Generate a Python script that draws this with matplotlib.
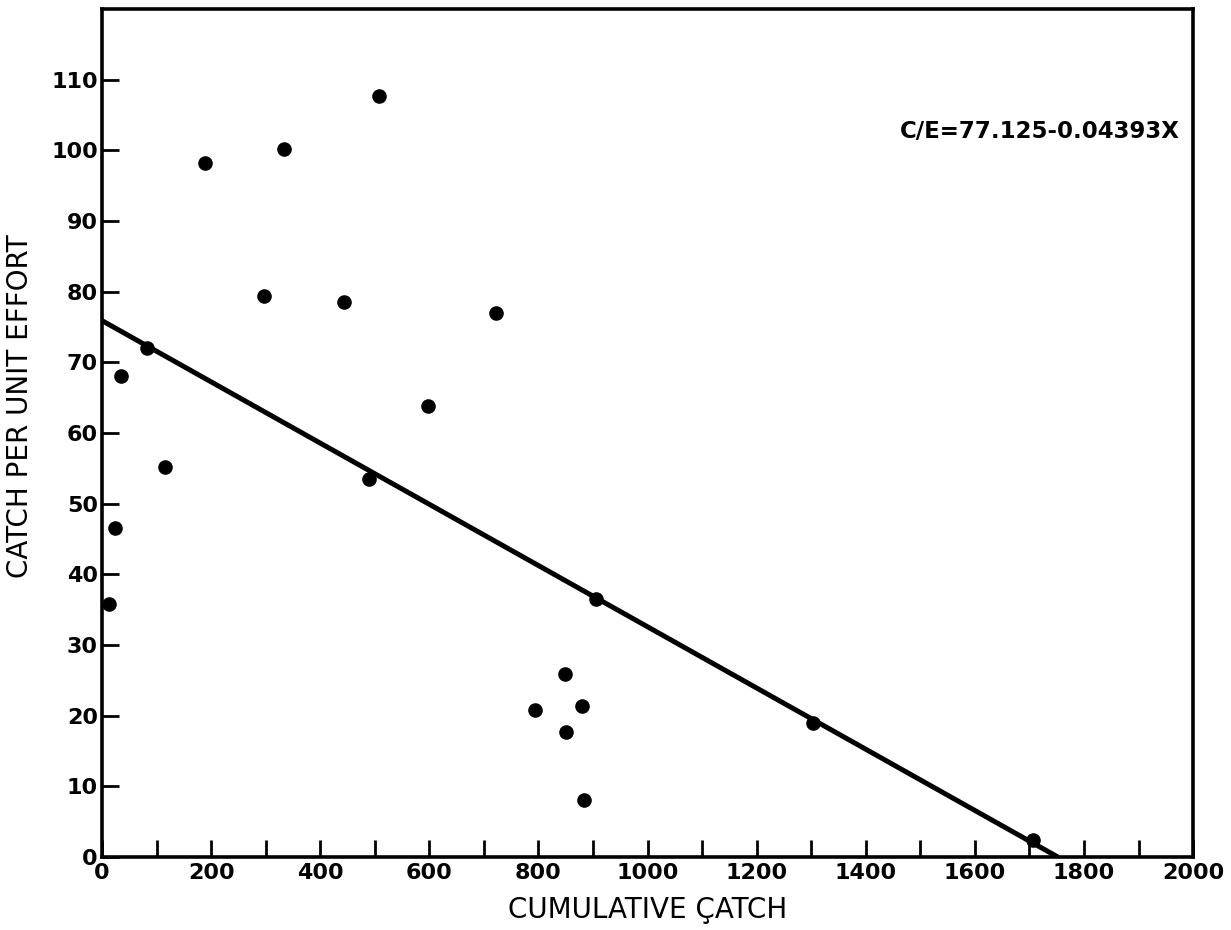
import matplotlib
matplotlib.use("Agg")
import matplotlib.pyplot as plt
import numpy as np

# cumulative catch vs catch per unit effort
cum_catch = [12, 24, 35, 82, 116, 189, 297, 334, 443, 489, 508,
             597, 722, 794, 849, 851, 880, 884, 906, 1304, 1707]
cpue = [35.8, 46.5, 68.0, 72.1, 55.2, 98.2, 79.4, 100.2, 78.6, 53.5, 107.7,
        63.8, 77.0, 20.8, 25.9, 17.7, 21.3, 8.0, 36.5, 19.0, 2.4]

# fitted line as drawn (end points)
fit_x = [0, 1752]
fit_y = [75.9, 0]
equation = "C/E=77.125-0.04393X"

x_major = np.arange(0, 2001, 200)
x_minor = np.arange(100, 2000, 200)
y_ticks = np.arange(0, 111, 10)

fig = plt.figure(figsize=(12.31, 9.30), dpi=100)
ax = fig.add_axes([0.0829, 0.0785, 0.8863, 0.9118])

ax.plot(fit_x, fit_y, color="black", lw=3.6, solid_capstyle="butt", zorder=2)
ax.scatter(cum_catch, cpue, s=90, color="black", zorder=3, clip_on=False)

ax.set_xlim(0, 2000)
ax.set_ylim(0, 120)
ax.set_xticks(x_major)
ax.set_xticks(x_minor, minor=True)
ax.set_yticks(y_ticks)

for s in ax.spines.values():
    s.set_linewidth(2.6)

ax.tick_params(axis="both", which="both", direction="in", length=12, width=2,
               top=False, right=False)
ax.tick_params(axis="x", which="major", pad=4)
ax.tick_params(axis="y", which="major", pad=3)
for lab in ax.get_xticklabels() + ax.get_yticklabels():
    lab.set_fontsize(16)
    lab.set_fontweight("bold")

ax.set_xlabel("CUMULATIVE ÇATCH", fontsize=20, labelpad=10)
ax.set_ylabel("CATCH PER UNIT EFFORT", fontsize=20)
ax.yaxis.set_label_coords(-0.062, 0.532)

ax.text(0.988, 0.856, equation, transform=ax.transAxes, ha="right", va="center",
        fontsize=16.5, fontweight="bold")

fig.savefig("out.png", dpi=100)
